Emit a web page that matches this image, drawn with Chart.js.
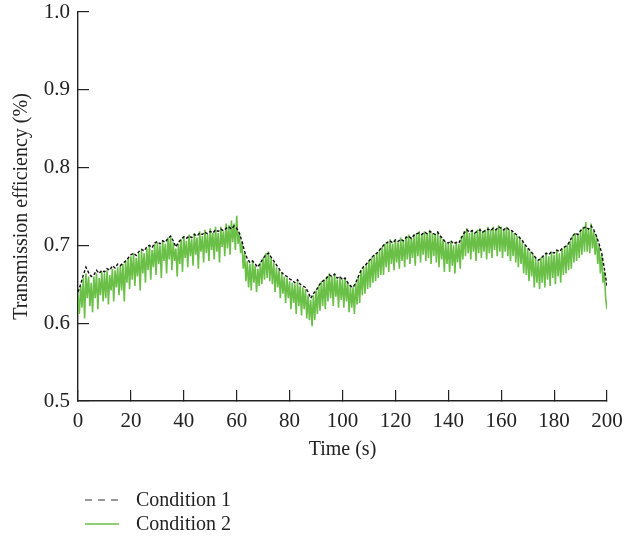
<!DOCTYPE html>
<html>
<head>
<meta charset="utf-8">
<script src="https://cdn.jsdelivr.net/npm/chart.js@4"></script>
<style>
  html, body { margin: 0; padding: 0; background: #fff; }
  #wrap { position: relative; width: 630px; height: 537px; }
  #c { position: absolute; left: 0; top: 0; }
  .leg { position: absolute; left: 85px; font-family: "Liberation Serif", serif; font-size: 20px; color: #222; display: flex; align-items: center; }
  .leg svg { margin-right: 17px; }
</style>
</head>
<body>
<div id="wrap">
  <canvas id="c" width="630" height="537"></canvas>
  <div class="leg" style="top:488px;"><svg width="34" height="4"><line x1="0" y1="2" x2="34" y2="2" stroke="#333" stroke-width="1.2" stroke-dasharray="7,6"/></svg><span>Condition 1</span></div>
  <div class="leg" style="top:512px;"><svg width="34" height="4"><line x1="0" y1="2" x2="34" y2="2" stroke="#6abf47" stroke-width="1.5"/></svg><span>Condition 2</span></div>
</div>
<script>
const seriesNames = ["Condition 1", "Condition 2"];
const xTitle = "Time (s)";
const yTitle = "Transmission efficiency (%)";

// Condition 1: one sample per second (0..200 s)
const condition1 = [
0.640,0.650,0.662,0.672,0.665,0.660,0.662,0.668,0.664,0.668,
0.666,0.670,0.668,0.674,0.671,0.676,0.674,0.677,0.680,0.684,
0.688,0.690,0.687,0.692,0.695,0.693,0.698,0.700,0.697,0.703,
0.705,0.702,0.706,0.704,0.709,0.712,0.706,0.698,0.704,0.708,
0.711,0.709,0.712,0.710,0.714,0.712,0.716,0.714,0.717,0.715,
0.718,0.716,0.720,0.718,0.721,0.719,0.722,0.724,0.721,0.725,
0.722,0.716,0.705,0.692,0.683,0.678,0.680,0.676,0.672,0.678,
0.683,0.688,0.690,0.685,0.680,0.675,0.670,0.665,0.662,0.660,
0.657,0.655,0.652,0.656,0.650,0.648,0.646,0.640,0.632,0.638,
0.642,0.648,0.653,0.655,0.658,0.662,0.660,0.663,0.658,0.660,
0.656,0.658,0.652,0.648,0.646,0.652,0.660,0.668,0.673,0.676,
0.680,0.684,0.688,0.690,0.694,0.698,0.702,0.704,0.706,0.703,
0.707,0.705,0.708,0.706,0.710,0.712,0.709,0.713,0.715,0.716,
0.714,0.717,0.715,0.718,0.716,0.714,0.717,0.712,0.708,0.704,
0.703,0.706,0.702,0.704,0.703,0.710,0.716,0.720,0.717,0.719,
0.716,0.718,0.720,0.717,0.719,0.721,0.719,0.722,0.720,0.724,
0.722,0.720,0.723,0.720,0.719,0.716,0.713,0.710,0.706,0.701,
0.697,0.693,0.689,0.684,0.681,0.683,0.687,0.690,0.688,0.692,
0.690,0.694,0.692,0.696,0.698,0.700,0.706,0.712,0.716,0.714,
0.719,0.722,0.724,0.721,0.725,0.720,0.712,0.702,0.690,0.670,
0.648
];

// Condition 2: two samples per second (0, 0.5, 1, ... 200 s)
const condition2 = [
0.636,0.612, 0.648,0.620, 0.658,0.606, 0.664,0.632, 0.660,0.622,
0.652,0.614, 0.660,0.632, 0.664,0.618, 0.658,0.636, 0.666,0.628,
0.664,0.632, 0.668,0.624, 0.662,0.642, 0.670,0.628, 0.668,0.646,
0.672,0.636, 0.674,0.642, 0.676,0.628, 0.680,0.652, 0.684,0.644,
0.686,0.656, 0.690,0.648, 0.684,0.660, 0.690,0.642, 0.694,0.664,
0.690,0.652, 0.696,0.668, 0.700,0.656, 0.694,0.672, 0.702,0.662,
0.704,0.676, 0.700,0.658, 0.706,0.680, 0.702,0.664, 0.710,0.682,
0.712,0.668, 0.704,0.680, 0.696,0.660, 0.702,0.676, 0.708,0.666,
0.712,0.684, 0.706,0.672, 0.714,0.686, 0.708,0.674, 0.716,0.688,
0.710,0.670, 0.718,0.692, 0.712,0.678, 0.720,0.690, 0.714,0.680,
0.722,0.694, 0.716,0.682, 0.724,0.692, 0.716,0.678, 0.724,0.698,
0.718,0.686, 0.728,0.696, 0.726,0.688, 0.732,0.704, 0.728,0.694,
0.738,0.702, 0.716,0.690, 0.704,0.670, 0.690,0.654, 0.680,0.646,
0.676,0.642, 0.680,0.652, 0.674,0.640, 0.670,0.648, 0.678,0.650,
0.684,0.656, 0.690,0.658, 0.692,0.654, 0.684,0.650, 0.678,0.640,
0.672,0.646, 0.668,0.632, 0.664,0.638, 0.660,0.626, 0.658,0.632,
0.654,0.618, 0.652,0.626, 0.650,0.612, 0.654,0.622, 0.648,0.610,
0.646,0.618, 0.644,0.606, 0.636,0.604, 0.630,0.596, 0.636,0.604,
0.642,0.612, 0.648,0.616, 0.654,0.622, 0.656,0.618, 0.660,0.628,
0.664,0.632, 0.660,0.622, 0.664,0.634, 0.656,0.620, 0.660,0.630,
0.656,0.620, 0.658,0.628, 0.652,0.614, 0.648,0.620, 0.646,0.612,
0.652,0.624, 0.660,0.626, 0.668,0.636, 0.672,0.638, 0.676,0.644,
0.680,0.646, 0.684,0.652, 0.688,0.654, 0.690,0.658, 0.694,0.662,
0.698,0.662, 0.702,0.672, 0.704,0.666, 0.708,0.676, 0.702,0.668,
0.708,0.678, 0.704,0.670, 0.710,0.680, 0.706,0.672, 0.712,0.682,
0.714,0.676, 0.710,0.684, 0.714,0.674, 0.716,0.686, 0.718,0.678,
0.714,0.688, 0.718,0.680, 0.716,0.684, 0.720,0.676, 0.716,0.686,
0.714,0.678, 0.718,0.672, 0.712,0.682, 0.708,0.666, 0.704,0.676,
0.702,0.666, 0.706,0.674, 0.700,0.664, 0.704,0.678, 0.702,0.670,
0.712,0.682, 0.718,0.686, 0.722,0.690, 0.716,0.682, 0.720,0.692,
0.716,0.680, 0.720,0.690, 0.722,0.684, 0.718,0.692, 0.720,0.682,
0.724,0.690, 0.720,0.684, 0.724,0.694, 0.720,0.686, 0.726,0.692,
0.724,0.684, 0.720,0.692, 0.724,0.686, 0.720,0.680, 0.718,0.686,
0.716,0.678, 0.712,0.672, 0.710,0.676, 0.704,0.664, 0.700,0.662,
0.696,0.654, 0.692,0.660, 0.688,0.646, 0.684,0.652, 0.680,0.644,
0.684,0.652, 0.686,0.646, 0.690,0.656, 0.686,0.648, 0.692,0.658,
0.688,0.650, 0.694,0.660, 0.690,0.652, 0.696,0.662, 0.698,0.664,
0.700,0.668, 0.706,0.670, 0.712,0.678, 0.716,0.680, 0.714,0.684,
0.720,0.688, 0.724,0.692, 0.730,0.692, 0.722,0.690, 0.728,0.696,
0.718,0.688, 0.712,0.676, 0.700,0.664, 0.688,0.652, 0.666,0.632,
0.618
];

const time1 = condition1.map((_, i) => i);
const time2 = condition2.map((_, i) => i / 2);
const xTicks = [0, 20, 40, 60, 80, 100, 120, 140, 160, 180, 200];
const yTicks = [0.5, 0.6, 0.7, 0.8, 0.9, 1.0];

const FONT = "'Liberation Serif', 'Times New Roman', serif";

new Chart(document.getElementById('c'), {
  type: 'line',
  data: {
    datasets: [
      {
        label: seriesNames[0],
        data: time1.map((t, i) => ({ x: t, y: condition1[i] })),
        borderColor: '#111111',
        borderWidth: 1.4,
        borderDash: [3, 2],
        pointRadius: 0,
        tension: 0,
        fill: false
      },
      {
        label: seriesNames[1],
        data: time2.map((t, i) => ({ x: t, y: condition2[i] })),
        borderColor: '#6abf47',
        borderWidth: 1.6,
        pointRadius: 0,
        tension: 0,
        fill: false
      }
    ]
  },
  options: {
    responsive: false,
    animation: false,
    events: [],
    layout: { padding: { left: 0, right: 23, top: 12, bottom: 75 } },
    plugins: { legend: { display: false }, tooltip: { enabled: false } },
    scales: {
      x: {
        type: 'linear',
        min: 0, max: 200,
        afterFit: s => { s.height = 61; s.paddingLeft = 0; s.paddingRight = 0; },
        afterBuildTicks: s => { s.ticks = xTicks.map(v => ({ value: v })); },
        ticks: { color: '#222', font: { family: FONT, size: 21 }, padding: 19, maxRotation: 0, autoSkip: false },
        grid: { drawOnChartArea: false, drawTicks: true, tickLength: -11, color: '#222', lineWidth: 1.2 },
        border: { display: true, color: '#222', width: 1.4 },
        title: { display: true, text: xTitle, color: '#222', font: { family: FONT, size: 20 }, padding: { top: 0, bottom: 0 } }
      },
      y: {
        type: 'linear',
        min: 0.5, max: 1.0,
        afterFit: s => { s.width = 78; s.paddingTop = 0; s.paddingBottom = 0; },
        afterBuildTicks: s => { s.ticks = yTicks.map(v => ({ value: v })); },
        ticks: { color: '#222', font: { family: FONT, size: 21 }, padding: 19, callback: v => v.toFixed(1) },
        grid: { drawOnChartArea: false, drawTicks: true, tickLength: -11, color: '#222', lineWidth: 1.2 },
        border: { display: true, color: '#222', width: 1.4 },
        title: { display: true, text: yTitle, color: '#222', font: { family: FONT, size: 20 }, padding: { top: 10, bottom: 0 } }
      }
    }
  }
});
</script>
</body>
</html>
